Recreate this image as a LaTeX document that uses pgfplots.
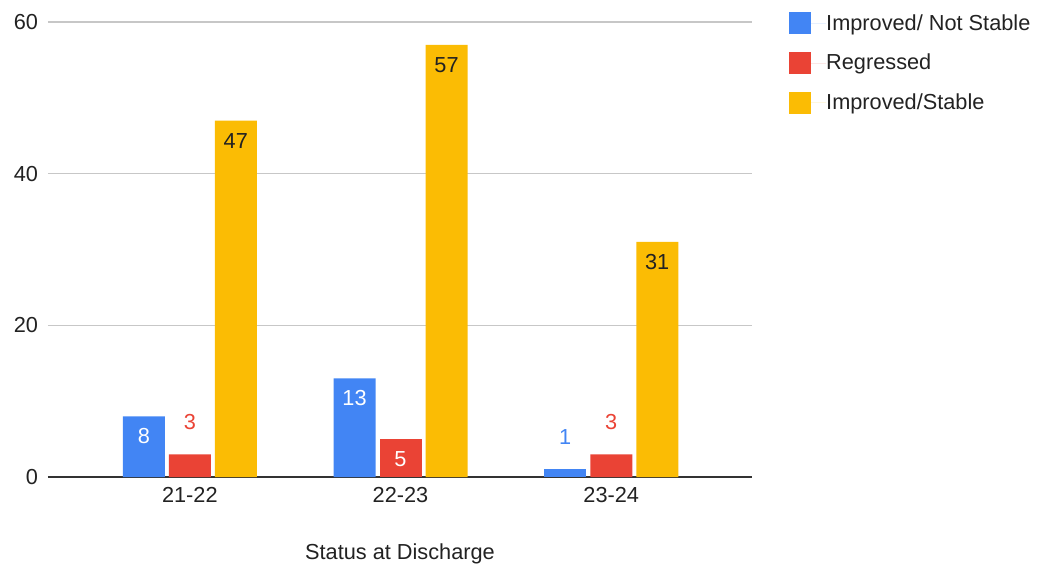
\documentclass[border=0pt]{standalone}
\usepackage{fontspec}
\setmainfont{Liberation Sans}
\usepackage{pgfplots}
\pgfplotsset{compat=1.18}
\definecolor{gblue}{HTML}{4285F4}
\definecolor{gred}{HTML}{EA4335}
\definecolor{gyellow}{HTML}{FBBC04}
\definecolor{gtext}{HTML}{222222}
\begin{document}
\begin{tikzpicture}
\begin{axis}[
  at={(0,0)}, anchor=south west,
  scale only axis, width=528pt, height=341.25pt,
  xmin=-0.673, xmax=2.668, ymin=0, ymax=60,
  ybar, bar width=31.5pt,
  axis x line*=bottom, axis y line*=left,
  x axis line style={-, draw=black!80, line width=1.1pt},
  y axis line style={draw=none},
  xtick={0,1,2}, xticklabels={21-22,22-23,23-24},
  ytick={0,20,40,60},
  major tick length=0pt,
  ymajorgrids, grid style={black!22, line width=0.9pt},
  /pgf/number format/assume math mode=true,
  font=\fontsize{16.3}{19}\selectfont,
  tick label style={text=gtext},
  yticklabel style={xshift=-4pt},
  xticklabel style={yshift=-4.2pt},
  xlabel={Status at Discharge},
  xlabel style={at={(axis description cs:0.5,0)}, anchor=center, yshift=-57.5pt, text=gtext},
  legend style={at={(axis description cs:1.052,1.022)}, anchor=north west, draw=none, fill=none,
     row sep=13.4pt, inner sep=0pt,
     nodes={inner sep=0pt, text=gtext, anchor=west}, column sep=0pt},
  legend cell align=left,
  legend image code/.code={\fill[#1] (0pt,-8.25pt) rectangle (16.5pt,8.25pt); \path (16.5pt,0) -- (28pt,0);},
  nodes near coords,
]
% blue
\addplot[fill=gblue, draw=none, bar shift=-34.5pt,
  every node near coord/.append style={anchor=center, yshift=-15pt, text=white}]
  coordinates {(0,8) (1,13)};
\addlegendentry{Improved/ Not Stable}
\addplot[fill=gblue, draw=none, bar shift=-34.5pt, forget plot,
  every node near coord/.append style={anchor=center, yshift=24pt, text=gblue}]
  coordinates {(2,1)};
% red
\addplot[fill=gred, draw=none, bar shift=0pt,
  every node near coord/.append style={anchor=center, yshift=24.5pt, text=gred}]
  coordinates {(0,3) (2,3)};
\addlegendentry{Regressed}
\addplot[fill=gred, draw=none, bar shift=0pt, forget plot,
  every node near coord/.append style={anchor=center, yshift=-15pt, text=white}]
  coordinates {(1,5)};
% yellow
\addplot[fill=gyellow, draw=none, bar shift=34.5pt,
  every node near coord/.append style={anchor=center, yshift=-15pt, text=gtext}]
  coordinates {(0,47) (1,57) (2,31)};
\addlegendentry{Improved/Stable}
\end{axis}
\pgfresetboundingbox
\useasboundingbox (-36pt,-67.5pt) rectangle (742.5pt,357.75pt);
\end{tikzpicture}
\end{document}
